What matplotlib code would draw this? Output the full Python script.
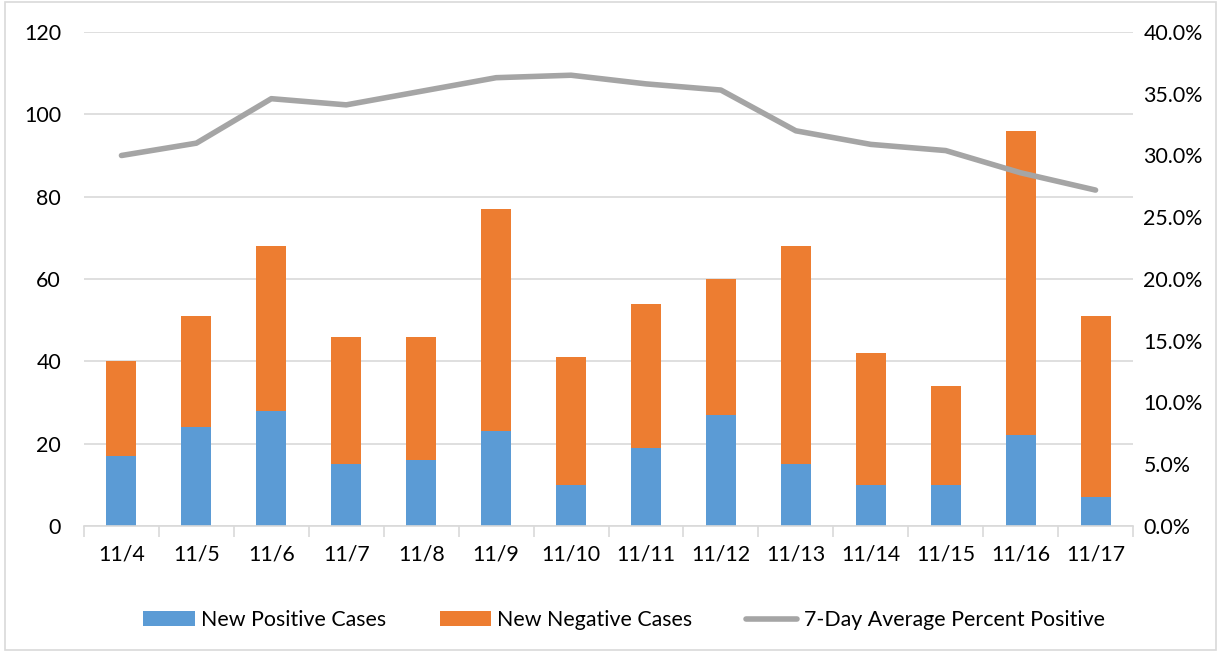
import matplotlib
matplotlib.use("Agg")
import matplotlib.pyplot as plt
import numpy as np
from matplotlib.ticker import FuncFormatter, FixedLocator
from matplotlib.patches import Rectangle

dates = ["11/4", "11/5", "11/6", "11/7", "11/8", "11/9", "11/10",
         "11/11", "11/12", "11/13", "11/14", "11/15", "11/16", "11/17"]
positive = [17, 24, 28, 15, 16, 23, 10, 19, 27, 15, 10, 10, 22, 7]
totals = [40, 51, 68, 46, 46, 77, 41, 54, 60, 68, 42, 34, 96, 51]
negative = [t - p for t, p in zip(totals, positive)]
pct_positive = [30.0, 31.0, 34.6, 34.1, 35.2, 36.3, 36.5, 35.8, 35.3, 32.0, 30.9, 30.4, 28.6, 27.2]

plt.rcParams['font.family'] = ['Lato', 'DejaVu Sans']
FS = 15.4

fig = plt.figure(figsize=(12.18, 6.52), dpi=100)
fig.patches.append(Rectangle((0.004, 0.003), 0.994, 0.994, transform=fig.transFigure,
                             fill=False, edgecolor='#d9d9d9', linewidth=1.2))
ax = fig.add_axes([84 / 1218, 1 - 526 / 652, (1133 - 84) / 1218, (526 - 32) / 652])
x = np.arange(len(dates))
blue, orange, gray = '#5B9BD5', '#ED7D31', '#A5A5A5'
b1 = ax.bar(x, positive, width=0.4, color=blue, label='New Positive Cases', zorder=2)
b2 = ax.bar(x, negative, width=0.4, bottom=positive, color=orange, label='New Negative Cases', zorder=2)
ax.set_ylim(0, 120)
ax.set_xlim(-0.5, len(dates) - 0.5)
ax.set_yticks(range(0, 121, 20))
ax.yaxis.grid(True, color='#d9d9d9', linewidth=1.2)
ax.set_axisbelow(True)
for s in ['top', 'left', 'right']:
    ax.spines[s].set_visible(False)
ax.spines['bottom'].set_color('#d9d9d9')
ax.spines['bottom'].set_linewidth(1.2)
ax.set_xticks(x)
ax.set_xticklabels(dates)
ax.tick_params(axis='x', length=0, labelsize=FS, pad=13)
ax.tick_params(axis='y', length=0, labelsize=FS, pad=16.5)
ax.xaxis.set_minor_locator(FixedLocator(np.arange(-0.5, len(dates), 1.0)))
ax.tick_params(axis='x', which='minor', length=8, color='#d9d9d9', width=1.2)

ax2 = ax.twinx()
l1, = ax2.plot(x, pct_positive, color=gray, linewidth=4.0, solid_capstyle='round',
               label='7-Day Average Percent Positive', zorder=3)
ax2.set_ylim(0, 40)
ax2.set_yticks(np.arange(0, 40.1, 5))
ax2.yaxis.set_major_formatter(FuncFormatter(lambda v, p: f"{v:.1f}%"))
ax2.tick_params(axis='y', length=0, labelsize=FS, pad=7.5)
for s in ['top', 'left', 'right', 'bottom']:
    ax2.spines[s].set_visible(False)

fig.legend(handles=[b1, b2, l1], loc='center', bbox_to_anchor=(624 / 1218, 1 - 620 / 652),
           ncol=3, frameon=False, fontsize=FS, handlelength=2.4, handleheight=0.7,
           columnspacing=2.5, handletextpad=0.3)

fig.savefig('out.png', dpi=100)
